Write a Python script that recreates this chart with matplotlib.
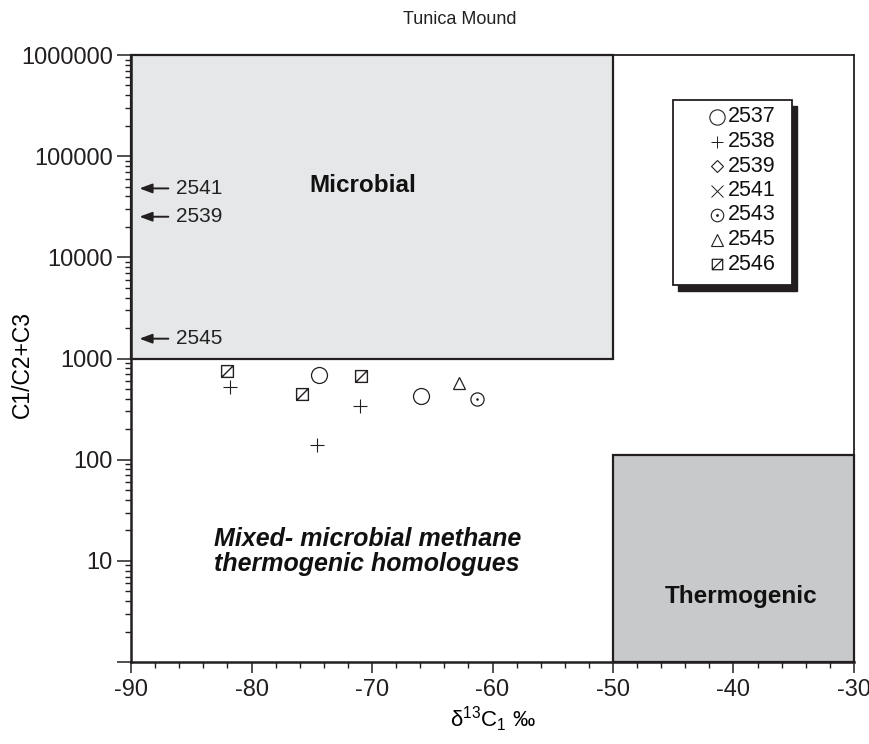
import matplotlib
matplotlib.use("Agg")
import matplotlib.pyplot as plt
from matplotlib.patches import Rectangle
from matplotlib.path import Path
from matplotlib.ticker import FixedLocator, FuncFormatter, MultipleLocator, LogLocator
import numpy as np

plt.rcParams['font.family'] = ['Liberation Sans', 'DejaVu Sans']
plt.rcParams['mathtext.fontset'] = 'custom'
plt.rcParams['mathtext.rm'] = 'Liberation Sans'
plt.rcParams['mathtext.it'] = 'Liberation Sans:italic'

INK = '#231f20'

# Samples: delta13C1 (permil) and C1/(C2+C3)
s2537_x = [-74.4, -65.9]
s2537_y = [680, 422]
s2538_x = [-81.8, -71.0, -74.6]
s2538_y = [518, 337, 139]
s2543_x = [-61.3]
s2543_y = [394]
s2545_x = [-62.8]
s2545_y = [567]
s2546_x = [-82.0, -75.8, -70.9]
s2546_y = [745, 442, 665]

# Samples whose methane is lighter than the plotted range (ratio only)
offscale_labels = ['2541', '2539', '2545']
offscale_y = [48000, 25200, 1570]

legend_labels = ['2537', '2538', '2539', '2541', '2543', '2545', '2546']

# square with a diagonal stroke
sq_diag = Path([(-1, -1), (1, -1), (1, 1), (-1, 1), (-1, -1), (-1, -1), (1, 1)],
               [Path.MOVETO, Path.LINETO, Path.LINETO, Path.LINETO, Path.CLOSEPOLY,
                Path.MOVETO, Path.LINETO])

fig = plt.figure(figsize=(8.69, 7.44), dpi=100)
ax = fig.add_axes([131/869, 1 - 662/744, 723/869, 607/744])
ax.set_yscale('log')
ax.set_xlim(-90, -30)
ax.set_ylim(1, 1e6)

# genetic fields
ax.add_patch(Rectangle((-90, 1000), 40, 1e6 - 1000, facecolor='#e6e7e8',
                       edgecolor=INK, lw=1.6, zorder=1, clip_on=False))
ax.add_patch(Rectangle((-50, 1), 20, 110 - 1, facecolor='#c8c9cb',
                       edgecolor=INK, lw=1.6, zorder=1, clip_on=False))

ax.text(-70.8, 51600, 'Microbial', fontsize=17.5, fontweight='bold',
        ha='center', va='center', color='#111111')
ax.text(-70.4, 12.3, 'Mixed- microbial methane\nthermogenic homologues', fontsize=18,
        fontweight='bold', fontstyle='italic', ha='center', va='center',
        linespacing=1.05, color='#111111')
ax.text(-39.4, 4.4, 'Thermogenic', fontsize=17.5, fontweight='bold',
        ha='center', va='center', color='#111111')

mk = dict(linestyle='none', color=INK, mfc='none', zorder=3)
ax.plot(s2537_x, s2537_y, marker='o', ms=11.5, mew=0.9, **mk)
ax.plot(s2538_x, s2538_y, marker='+', ms=10, mew=0.8, **mk)
ax.plot(s2543_x, s2543_y, marker='o', ms=9.5, mew=0.9, **mk)
ax.plot(s2543_x, s2543_y, marker='o', ms=1.2, mew=0.6, linestyle='none', color=INK, zorder=3)
ax.plot(s2545_x, s2545_y, marker='^', ms=9, mew=0.9, **mk)
ax.plot(s2546_x, s2546_y, marker=sq_diag, ms=8.5, mew=1.0, **mk)

for lab, yv in zip(offscale_labels, offscale_y):
    ax.annotate('', xy=(-89.3, yv), xytext=(-86.9, yv),
                arrowprops=dict(arrowstyle='-|>,head_length=0.75,head_width=0.28',
                                color=INK, lw=1.4, shrinkA=0, shrinkB=0))
    ax.text(-86.3, yv, lab, fontsize=15, ha='left', va='center', color='#222222')

# legend box with drop shadow (axes fraction)
bx0, bx1 = (673 - 131) / 723, (792 - 131) / 723
by1, by0 = (662 - 100) / 607, (662 - 285) / 607
dx, dy = 5 / 723, 6 / 607
ax.add_patch(Rectangle((bx0 + dx, by0 - dy), bx1 - bx0, by1 - by0, transform=ax.transAxes,
                       facecolor=INK, edgecolor=INK, lw=1, zorder=4, clip_on=False))
ax.add_patch(Rectangle((bx0, by0), bx1 - bx0, by1 - by0, transform=ax.transAxes,
                       facecolor='white', edgecolor=INK, lw=1.3, zorder=5, clip_on=False))
row_px = [117, 141.5, 166, 190.5, 215, 239.5, 264]
mx = (717 - 131) / 723
tx = (728 - 131) / 723
leg_markers = [dict(marker='o', ms=11, mew=0.8), dict(marker='+', ms=9, mew=0.7),
               dict(marker='D', ms=6.5, mew=0.8), dict(marker='x', ms=8, mew=0.7),
               dict(marker='o', ms=9, mew=0.8), dict(marker='^', ms=8, mew=0.8),
               dict(marker=sq_diag, ms=7.5, mew=0.9)]
for lab, yp, m in zip(legend_labels, row_px, leg_markers):
    yf = (662 - yp) / 607
    ax.plot([mx], [yf], transform=ax.transAxes, linestyle='none', color=INK,
            mfc='none', zorder=6, clip_on=False, **m)
    if lab == '2543':
        ax.plot([mx], [yf], transform=ax.transAxes, marker='o', ms=1, color=INK,
                zorder=6, clip_on=False)
    ax.text(tx, yf, lab, transform=ax.transAxes, fontsize=15.5, ha='left', va='center',
            zorder=6, color='#111111')

# axes and ticks
ax.xaxis.set_major_locator(MultipleLocator(10))
ax.xaxis.set_minor_locator(MultipleLocator(2))
ax.yaxis.set_major_locator(FixedLocator([1, 10, 100, 1000, 1e4, 1e5, 1e6]))
ax.yaxis.set_minor_locator(LogLocator(base=10, subs=np.arange(2, 10)))
ax.yaxis.set_major_formatter(FuncFormatter(lambda v, p: '' if v < 5 else f'{int(round(v))}'))
ax.yaxis.set_minor_formatter(FuncFormatter(lambda v, p: ''))
ax.xaxis.set_major_formatter(FuncFormatter(lambda v, p: f'{int(round(v))}'))
ax.tick_params(axis='both', which='major', direction='out', length=8, width=1.1,
               labelsize=17, colors=INK, pad=4)
ax.tick_params(axis='both', which='minor', direction='out', length=4.5, width=1.0, colors=INK)
ax.tick_params(axis='y', which='major', length=10, pad=3)
for s in ['left', 'bottom']:
    ax.spines[s].set_linewidth(1.8)
for s in ['top', 'right']:
    ax.spines[s].set_linewidth(1.3)
for s in ax.spines.values():
    s.set_color(INK)
ax.set_facecolor('white')

ax.set_xlabel('δ$^{13}$C$_1$ ‰', fontsize=16)
ax.set_ylabel('C1/C2+C3', fontsize=16.5)
ax.xaxis.set_label_coords(0.5, (662 - 719) / 607)
ax.yaxis.set_label_coords((22 - 131) / 723, 0.49)
ax.xaxis.label.set_va('center')
ax.yaxis.label.set_va('center')
fig.text(460 / 869, 1 - 20 / 744, 'Tunica Mound', fontsize=13, ha='center', va='center',
         color='#222222')

fig.savefig('out.png', dpi=100)
